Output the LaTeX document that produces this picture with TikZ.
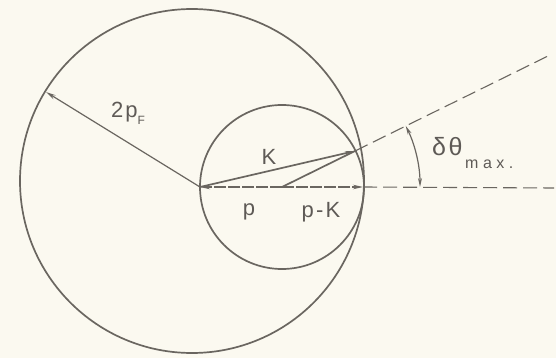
\documentclass[tikz,border=0pt]{standalone}
\usepackage{fontspec}
\setmainfont{Liberation Sans}
\usetikzlibrary{arrows.meta}
\definecolor{paper}{HTML}{FBF9F0}
\definecolor{ink}{HTML}{6A6660}
\definecolor{txt}{HTML}{5E5A56}
\tikzset{
  line/.style={draw=ink, line width=1.7pt},
  thin line/.style={draw=ink, line width=1.2pt},
  dline/.style={draw=ink, line width=1.1pt, dash pattern=on 14pt off 6pt},
  tip/.style={-{Stealth[length=10pt,width=4.5pt]}},
  lbl/.style={text=txt, inner sep=0pt, font=\fontsize{22}{22}\selectfont\addfontfeature{LetterSpace=10}},
}
\begin{document}
\begin{tikzpicture}[x=1pt,y=-1pt]
\fill[paper] (0,0) rectangle (556,358);
\useasboundingbox (0,0) rectangle (556,358);
% key points
\coordinate (BC) at (192,181);
\coordinate (SC) at (282,187);
\coordinate (O) at (200,187);
\coordinate (R) at (363,187);
\coordinate (T) at (355,151);
\coordinate (F) at (46,92);
\coordinate (U) at (548,56);
\coordinate (E) at (554,188);
% circles
\draw[line] (BC) circle[radius=172pt];
\draw[line] (SC) circle[radius=82pt];
% radius 2pF
\draw[thin line, tip] (O) -- (F);
% p and p-K horizontal arrows
\draw[thin line, tip, dash pattern=on 12pt off 2pt] (SC) -- (O);
\draw[thin line, tip, dash pattern=on 12pt off 2pt] (SC) -- (R);
% K vector and p-K line
\draw[line, tip] (O) -- (T);
\draw[line] (SC) -- (T);
% dashed extensions
\draw[dline] (T) -- (U);
\draw[dline] (R) -- (E);
% angle arc
\draw[thin line, {Stealth[length=9pt,width=4pt]}-{Stealth[length=9pt,width=4pt]}]
  ([shift={(0:138pt)}]SC) arc[start angle=0, end angle=26.3, radius=138pt];
% labels
\node[lbl] (l2pF) at (128,113) {2p\raisebox{-0.6ex}{\fontsize{12}{12}\selectfont F}};
\node[lbl] (lK) at (269,157) {K};
\node[lbl] (lp) at (249,212) {p};
\node[lbl] (lpK) at (321,212) {p-K};
\node[lbl, anchor=west] (ldt) at (432,153) {\fontsize{25}{25}\selectfont δθ\raisebox{-1.0ex}{\fontsize{16}{16}\selectfont\addfontfeature{LetterSpace=28}\,max.}};
\end{tikzpicture}
\end{document}
